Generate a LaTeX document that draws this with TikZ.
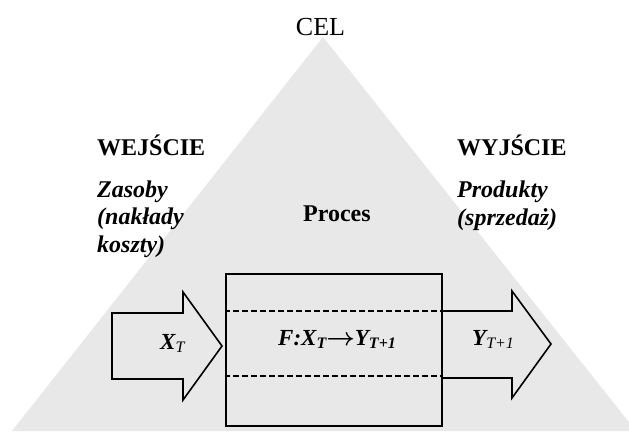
\documentclass[tikz,border=0pt]{standalone}
\usepackage{fontspec}
\setmainfont{Liberation Serif}
\newcommand\lowsub[1]{\raisebox{-3.5pt}{\fontsize{16}{16}\selectfont #1}}
\newcommand\boldto{{\boldmath$\rightarrow$}}
\definecolor{goalgray}{RGB}{232,232,232}
\tikzset{
  caption/.style={inner sep=0pt, anchor=base west, font=\fontsize{24}{28}\selectfont\bfseries},
  slanted/.style={caption, font=\fontsize{24}{28}\selectfont\bfseries\itshape},
  symbol/.style={inner sep=0pt, anchor=base west, font=\fontsize{23}{26}\selectfont\bfseries\itshape},
  flowarrow/.style={draw=black, line width=1.6pt, line join=miter},
  procbox/.style={draw=black, line width=2pt, minimum width=216pt, minimum height=152pt, inner sep=0pt},
  band/.style={draw=black, line width=1.6pt, dash pattern=on 6pt off 3pt}
}
\begin{document}
\begin{tikzpicture}[x=1pt,y=-1pt]
\useasboundingbox (0,0) rectangle (629,431);
\begin{scope}
  \clip (0,0) rectangle (629,431);
  % the goal triangle in the background
  \fill[goalgray] (323,37) -- (12,431) -- (636,431) -- cycle;
\end{scope}

\node[inner sep=0pt, anchor=base, font=\fontsize{26}{30}\selectfont] (cel) at (320.5,35) {CEL};

% input side
\node[caption] (in) at (97,155.5) {WEJŚCIE};
\node[slanted] (in1) at (97,197) {Zasoby};
\node[slanted] (in2) at (97,224.5) {(nakłady};
\node[slanted] (in3) at (97,252) {koszty)};

% output side
\node[caption] (out) at (457,155.5) {WYJŚCIE};
\node[slanted] (out1) at (457,197.5) {Produkty};
\node[slanted] (out2) at (457,225) {(sprzedaż)};

\node[caption] (proclabel) at (303,221) {Proces};

% the process box and its dashed band
\node[procbox] (proc) at (334,350) {};
\coordinate (bandtl) at (226,311);
\coordinate (bandbr) at (442,376);
\draw[band] (bandtl) rectangle (bandbr);

% input arrow
\draw[flowarrow] (112,313) -- (183,313) -- (183,292) -- (222,346) -- (183,400) -- (183,379) -- (112,379) -- cycle;
% output arrow, starting at the box edge
\draw[flowarrow] (proc.east |- 0,311) -- (512,311) -- (512,291) -- (551,344) -- (512,398) -- (512,378) -- (proc.east |- 0,378);

\node[symbol] (xt) at (160,349) {X\lowsub{\mdseries T}};
\node[symbol] (fn) at (278,345) {F:X\lowsub{T}\boldto Y\lowsub{T+1}};
\node[symbol] (yt) at (472,345) {Y\lowsub{\mdseries T+1}};
\end{tikzpicture}
\end{document}
